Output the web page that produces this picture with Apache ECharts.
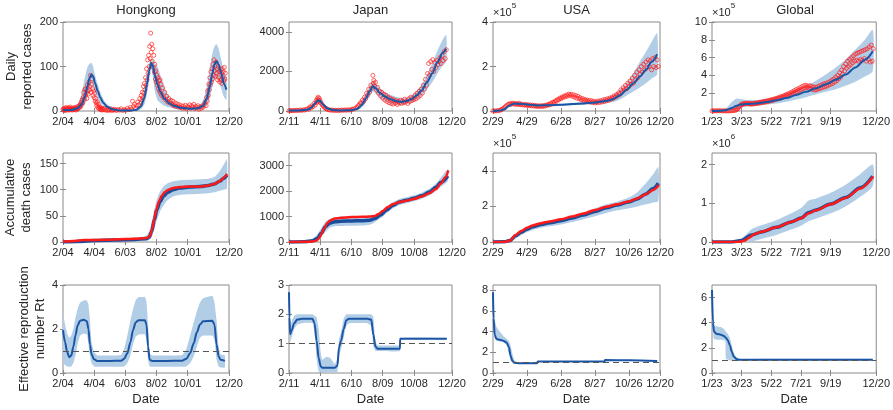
<!DOCTYPE html>
<html>
<head>
<meta charset="utf-8">
<script src="https://cdn.jsdelivr.net/npm/echarts@6/dist/echarts.min.js"></script>
<style>
  html, body { margin: 0; background: #fff; }
  #chart { width: 893px; height: 410px; }
</style>
</head>
<body>
<div id="chart"></div>
<script>
// x is "days since first date" of each region, ticks every 60 days + last date
const regionNames = ['Hongkong', 'Japan', 'USA', 'Global']
const xEnd = [320, 313, 295, 332]
const xTickLabels = [
  ['2/04', '4/04', '6/03', '8/02', '10/01', '12/20'],
  ['2/11', '4/11', '6/10', '8/09', '10/08', '12/20'],
  ['2/29', '4/29', '6/28', '8/27', '10/26', '12/20'],
  ['1/23', '3/23', '5/22', '7/21', '9/19', '12/20'],
]

// y axis per row
const dailyMax = [200, 4500, 4e5, 10e5]
const dailyTicks = [[0, 100, 200], [0, 2000, 4000], [0, 2e5, 4e5], [2e5, 4e5, 6e5, 8e5, 10e5]]
const deathMax = [170, 3500, 5e5, 2.3e6]
const deathTicks = [[0, 50, 100, 150], [0, 1000, 2000, 3000], [0, 2e5, 4e5], [0, 1e6, 2e6]]
const rtMax = [4, 3, 8.5, 7]
const rtTicks = [[0, 2, 4], [0, 1, 2, 3], [0, 2, 4, 6, 8], [0, 2, 4, 6]]

// model curves: [day, mean, lower, upper]
const hkDaily = [
  [0, 2, 0, 4], [15, 2, 0, 5], [28, 6, 2, 14], [36, 15, 6, 40], [42, 32, 15, 75], [47, 55, 30, 98],
  [51, 74, 50, 106], [55, 82, 62, 108], [58, 78, 55, 100], [62, 62, 40, 80], [67, 45, 28, 60],
  [72, 30, 18, 42], [78, 18, 10, 26], [85, 10, 5, 15], [95, 4, 1, 7], [110, 1, 0, 3], [130, 1, 0, 3],
  [142, 3, 1, 6], [150, 10, 4, 18], [157, 30, 15, 50], [162, 60, 40, 85], [166, 90, 70, 108],
  [170, 108, 95, 115], [173, 102, 80, 115], [177, 80, 45, 108], [182, 60, 25, 100], [188, 42, 18, 80],
  [195, 28, 12, 55], [205, 17, 8, 30], [215, 11, 5, 18], [228, 7, 3, 12], [245, 5, 2, 9], [260, 6, 3, 10],
  [270, 12, 5, 24], [277, 28, 12, 55], [283, 55, 30, 95], [288, 85, 55, 130], [292, 105, 70, 145],
  [296, 112, 75, 150], [300, 104, 70, 140], [305, 85, 50, 115], [310, 62, 32, 90], [315, 48, 25, 77],
]
const jpDaily = [
  [0, 20, 10, 40], [20, 30, 15, 60], [35, 60, 30, 110], [42, 150, 90, 220], [50, 380, 280, 500],
  [56, 540, 420, 660], [60, 500, 380, 620], [66, 300, 200, 420], [74, 130, 70, 200], [85, 50, 20, 90],
  [100, 30, 10, 60], [120, 40, 15, 80], [132, 120, 60, 220], [140, 300, 180, 480], [148, 650, 450, 900],
  [155, 1000, 750, 1300], [161, 1250, 1000, 1500], [166, 1150, 900, 1400], [175, 900, 650, 1150],
  [185, 720, 500, 950], [195, 590, 380, 820], [205, 500, 320, 720], [215, 470, 320, 650],
  [225, 500, 380, 650], [235, 600, 450, 780], [245, 780, 600, 1000], [255, 1050, 800, 1350],
  [265, 1450, 1100, 1850], [275, 1900, 1450, 2400], [285, 2450, 1900, 3050], [295, 2950, 2300, 3600],
  [302, 3150, 2500, 3850],
]
const usDaily = [
  [0, 500, 0, 1000], [12, 2000, 1000, 3000], [20, 8000, 5000, 11000], [28, 22000, 18000, 27000],
  [36, 33000, 29000, 37000], [45, 33000, 29000, 37000], [60, 29000, 25000, 33000], [80, 25000, 21000, 29000],
  [100, 26000, 22000, 31000], [120, 28000, 23000, 33000], [140, 31000, 26000, 37000], [160, 34000, 28000, 41000],
  [180, 38000, 31000, 46000], [200, 45000, 36000, 56000], [212, 53000, 40000, 70000], [224, 70000, 52000, 95000],
  [236, 95000, 70000, 125000], [248, 125000, 88000, 170000], [260, 156000, 107000, 224000],
  [270, 185000, 125000, 265000], [280, 220000, 145000, 310000], [290, 255000, 165000, 350000],
]
const glDaily = [
  [0, 500, 0, 1000], [20, 3000, 0, 8000], [30, 12000, 0, 40000], [40, 35000, 0, 100000],
  [50, 60000, 5000, 140000], [58, 72000, 30000, 135000], [70, 78000, 50000, 125000], [90, 85000, 60000, 125000],
  [110, 100000, 72000, 135000], [130, 120000, 85000, 160000], [150, 145000, 105000, 190000],
  [170, 180000, 130000, 230000], [190, 215000, 155000, 280000], [210, 255000, 185000, 340000],
  [230, 300000, 215000, 410000], [250, 350000, 245000, 490000], [270, 410000, 285000, 580000],
  [290, 490000, 330000, 690000], [310, 580000, 390000, 810000], [325, 670000, 450000, 910000],
]

const hkDeaths = [
  [0, 0, 0, 1], [30, 1, 0, 3], [60, 3, 1, 5], [100, 4, 2, 7], [140, 5, 3, 8], [160, 6, 3, 12],
  [166, 9, 4, 20], [171, 20, 10, 38], [176, 42, 25, 62], [181, 62, 42, 82], [187, 77, 58, 96],
  [194, 88, 70, 106], [202, 95, 80, 112], [212, 100, 87, 116], [225, 103, 90, 118], [245, 105, 91, 119],
  [265, 106, 92, 120], [280, 108, 93, 121], [292, 111, 95, 124], [302, 116, 98, 135], [310, 122, 100, 148],
  [316, 128, 102, 158],
]
const jpDeaths = [
  [0, 0, 0, 20], [30, 10, 0, 40], [45, 50, 10, 120], [55, 150, 60, 320], [62, 350, 180, 550],
  [70, 600, 400, 800], [78, 740, 560, 900], [88, 800, 620, 960], [100, 820, 630, 1000], [120, 830, 640, 1020],
  [140, 840, 650, 1020], [155, 860, 680, 1030], [165, 920, 780, 1060], [175, 1050, 920, 1180],
  [187, 1250, 1130, 1380], [200, 1450, 1330, 1570], [212, 1570, 1450, 1690], [225, 1640, 1520, 1760],
  [240, 1720, 1600, 1840], [255, 1820, 1700, 1950], [270, 1970, 1840, 2100], [282, 2150, 2000, 2300],
  [292, 2350, 2180, 2550], [305, 2600, 2400, 2850],
]
const usDeaths = [
  [0, 0, 0, 0], [20, 1000, 0, 3000], [30, 8000, 2000, 15000], [40, 35000, 20000, 45000],
  [50, 55000, 40000, 62000], [60, 72000, 55000, 80000], [70, 85000, 68000, 92000], [85, 98000, 80000, 105000],
  [100, 108000, 88000, 115000], [120, 120000, 98000, 128000], [140, 135000, 112000, 145000],
  [160, 152000, 128000, 165000], [180, 172000, 145000, 188000], [200, 192000, 163000, 212000],
  [220, 208000, 178000, 228000], [240, 225000, 190000, 250000], [255, 242000, 200000, 280000],
  [270, 270000, 212000, 330000], [283, 300000, 222000, 380000], [292, 330000, 230000, 420000],
]
const glDeaths = [
  [0, 0, 0, 0], [40, 3000, 0, 20000], [60, 40000, 0, 100000], [80, 180000, 20000, 330000],
  [100, 260000, 80000, 430000], [130, 380000, 180000, 560000], [160, 520000, 320000, 740000],
  [180, 620000, 420000, 880000], [196, 760000, 540000, 1080000], [210, 830000, 600000, 1120000],
  [240, 980000, 740000, 1270000], [270, 1150000, 920000, 1480000], [300, 1400000, 1170000, 1760000],
  [325, 1700000, 1450000, 2000000],
]

const hkRt = [
  [0, 1.95, 0.5, 2.7], [4, 1.4, 0.35, 2.2], [8, 0.95, 0.3, 1.8], [12, 0.72, 0.28, 1.6], [16, 0.8, 0.3, 1.7],
  [20, 1.2, 0.45, 2.0], [24, 1.7, 0.8, 2.5], [28, 2.15, 1.3, 2.9], [33, 2.38, 1.7, 3.2], [40, 2.42, 1.8, 3.3],
  [46, 2.35, 1.75, 3.3], [49, 2.0, 1.3, 3.1], [52, 1.3, 0.8, 2.4], [55, 0.85, 0.45, 1.4], [60, 0.62, 0.3, 0.95],
  [66, 0.55, 0.28, 0.8], [90, 0.55, 0.28, 0.8], [112, 0.56, 0.28, 0.82], [118, 0.65, 0.3, 1.1],
  [124, 0.9, 0.45, 1.7], [130, 1.4, 0.8, 2.4], [135, 1.95, 1.3, 2.9], [140, 2.3, 1.65, 3.3],
  [146, 2.4, 1.75, 3.45], [158, 2.4, 1.75, 3.45], [161, 2.2, 1.5, 3.2], [164, 1.2, 0.6, 2.2],
  [167, 0.6, 0.3, 0.9], [172, 0.55, 0.28, 0.8], [200, 0.55, 0.28, 0.8], [230, 0.56, 0.28, 0.82],
  [238, 0.65, 0.3, 1.1], [245, 0.9, 0.45, 1.7], [252, 1.35, 0.75, 2.3], [258, 1.85, 1.2, 2.8],
  [264, 2.2, 1.6, 3.2], [270, 2.35, 1.7, 3.4], [288, 2.38, 1.7, 3.5], [292, 2.2, 1.5, 3.2],
  [296, 1.3, 0.6, 2.4], [300, 0.75, 0.3, 1.2], [304, 0.6, 0.25, 0.85], [312, 0.55, 0.25, 0.8],
]
const jpRt = [
  [0, 2.75, 2.7, 2.8], [1, 1.9, 1.6, 2.1], [2, 1.32, 1.05, 1.6], [5, 1.45, 1.2, 1.75], [10, 1.7, 1.5, 1.95],
  [16, 1.82, 1.65, 2.0], [25, 1.85, 1.7, 2.0], [45, 1.85, 1.7, 2.0], [49, 1.7, 1.4, 1.95], [53, 1.1, 0.5, 1.9],
  [57, 0.5, 0.05, 1.5], [61, 0.22, 0.02, 0.7], [64, 0.18, 0.02, 0.45], [72, 0.18, 0.02, 0.55],
  [80, 0.18, 0.02, 0.5], [88, 0.18, 0.02, 0.3], [93, 0.25, 0.04, 0.5], [96, 0.88, 0.6, 1.15],
  [100, 1.1, 0.8, 1.4], [105, 1.5, 1.2, 1.85], [110, 1.8, 1.6, 2.0], [115, 1.85, 1.7, 2.0],
  [150, 1.85, 1.7, 2.0], [158, 1.82, 1.6, 2.0], [162, 1.3, 0.9, 1.9], [166, 0.9, 0.75, 1.1],
  [170, 0.83, 0.75, 0.95], [213, 0.83, 0.75, 0.95], [213.5, 1.17, 1.14, 1.2], [303, 1.17, 1.14, 1.2],
]
const usRt = [
  [0, 7.8, 7.6, 7.9], [1, 5.3, 4.8, 6.2], [3, 3.7, 3.4, 5.2], [6, 3.3, 3.1, 4.5], [12, 3.2, 3.05, 4.0],
  [18, 3.12, 3.0, 3.6], [24, 2.95, 2.7, 3.3], [28, 2.5, 1.9, 3.1], [31, 1.7, 1.2, 2.7], [34, 1.2, 1.0, 1.9],
  [38, 0.98, 0.92, 1.2], [45, 0.95, 0.9, 1.0], [78, 0.95, 0.9, 1.0], [79, 1.12, 1.08, 1.16],
  [197, 1.12, 1.08, 1.16], [198, 1.25, 1.2, 1.3], [240, 1.22, 1.17, 1.27], [290, 1.17, 1.12, 1.22],
]
const glRt = [
  [0, 6.6, 6.5, 6.7], [2, 4.0, 3.3, 4.8], [4, 3.3, 2.7, 3.75], [10, 3.1, 2.65, 3.7], [18, 3.05, 2.65, 3.65],
  [24, 2.95, 2.6, 3.5], [27, 2.85, 2.55, 3.35], [28, 2.8, 1.1, 3.3], [32, 2.6, 1.05, 3.1], [36, 2.2, 1.0, 2.8],
  [40, 1.7, 1.0, 2.2], [44, 1.3, 0.98, 1.6], [50, 1.1, 0.98, 1.25], [56, 1.05, 0.98, 1.12],
  [325, 1.05, 0.98, 1.12],
]

// reported data: [day, value]
const hkDailyObs = [
  [0, 4], [1, 2], [2, 6], [3, 3], [4, 1], [5, 5], [6, 8], [7, 2], [8, 4], [9, 6], [10, 3], [11, 7], [12, 2],
  [13, 5], [14, 9], [15, 4], [16, 3], [17, 6], [18, 2], [19, 5], [20, 7], [21, 3], [22, 4], [23, 8], [24, 5],
  [25, 2], [26, 6], [27, 4], [28, 10], [29, 5], [30, 7], [31, 12], [32, 9], [33, 14], [34, 10], [35, 20],
  [36, 16], [37, 25], [38, 18], [39, 30], [40, 42], [41, 26], [42, 48], [43, 35], [44, 50], [45, 40],
  [46, 28], [47, 58], [48, 45], [49, 38], [50, 65], [51, 48], [52, 55], [53, 80], [54, 42], [55, 60],
  [56, 72], [57, 50], [58, 35], [59, 45], [60, 30], [61, 40], [62, 22], [63, 28], [64, 18], [65, 12],
  [66, 20], [67, 8], [68, 15], [69, 6], [70, 10], [71, 4], [72, 8], [73, 3], [74, 6], [75, 2], [76, 5],
  [78, 3], [80, 6], [82, 2], [84, 4], [86, 1], [88, 3], [90, 2], [92, 5], [94, 1], [96, 3], [98, 2],
  [100, 4], [103, 1], [106, 3], [109, 2], [112, 5], [115, 1], [118, 3], [121, 2], [124, 6], [127, 3],
  [130, 8], [132, 4], [134, 22], [136, 10], [138, 15], [140, 6], [142, 12], [144, 20], [146, 14],
  [148, 28], [150, 18], [151, 35], [152, 25], [153, 42], [154, 30], [155, 55], [156, 40], [157, 62],
  [158, 48], [159, 75], [160, 58], [161, 95], [162, 70], [163, 115], [164, 85], [165, 125], [166, 100],
  [167, 145], [168, 118], [169, 175], [170, 132], [171, 150], [172, 112], [173, 140], [174, 98],
  [175, 125], [176, 88], [177, 105], [178, 72], [179, 90], [180, 65], [181, 80], [182, 58], [183, 75],
  [184, 50], [185, 68], [186, 45], [187, 70], [188, 40], [189, 60], [190, 35], [192, 52], [194, 30],
  [196, 42], [198, 25], [200, 33], [202, 20], [204, 28], [206, 18], [208, 24], [210, 15], [212, 22],
  [214, 12], [216, 18], [218, 10], [220, 16], [222, 9], [224, 14], [226, 8], [228, 12], [230, 6],
  [232, 11], [234, 7], [236, 13], [238, 5], [240, 10], [242, 8], [244, 14], [246, 6], [248, 12],
  [250, 9], [252, 15], [254, 5], [256, 10], [258, 7], [260, 12], [262, 4], [264, 9], [266, 6], [268, 11],
  [270, 8], [272, 14], [274, 20], [276, 12], [277, 30], [278, 22], [279, 45], [280, 35], [281, 60],
  [282, 48], [283, 75], [284, 58], [285, 88], [286, 65], [287, 95], [288, 72], [289, 105], [290, 80],
  [291, 115], [292, 90], [293, 100], [294, 78], [295, 110], [296, 85], [297, 95], [298, 70], [299, 100],
  [300, 75], [301, 88], [302, 65], [303, 92], [304, 70], [305, 85], [306, 62], [307, 95], [308, 75],
  [309, 88], [310, 68], [311, 98], [312, 72], [313, 85],
]
const jpDailyObs = [
  [0, 10], [3, 25], [6, 15], [9, 30], [12, 20], [15, 40], [18, 25], [21, 50], [24, 30], [27, 60], [30, 45],
  [33, 80], [36, 120], [38, 90], [40, 200], [42, 150], [44, 260], [46, 220], [48, 380], [50, 300],
  [52, 520], [53, 420], [54, 620], [55, 480], [56, 700], [57, 560], [58, 640], [59, 450], [60, 520],
  [62, 380], [64, 300], [66, 250], [68, 180], [70, 150], [72, 110], [74, 80], [77, 60], [80, 40],
  [83, 50], [86, 30], [89, 40], [92, 25], [95, 45], [98, 30], [101, 50], [104, 35], [107, 55], [110, 40],
  [113, 60], [116, 45], [119, 70], [122, 90], [125, 110], [128, 150], [131, 200], [133, 260], [135, 320],
  [137, 420], [139, 380], [141, 550], [143, 480], [145, 700], [147, 620], [149, 900], [151, 800],
  [153, 1100], [155, 950], [157, 1300], [159, 1150], [161, 1800], [162, 1400], [163, 1550], [164, 1250],
  [166, 1450], [168, 1050], [170, 1200], [172, 900], [174, 1000], [176, 750], [178, 950], [180, 650],
  [182, 850], [184, 550], [186, 800], [188, 480], [190, 700], [192, 420], [194, 650], [196, 380],
  [198, 600], [200, 350], [202, 560], [204, 400], [206, 520], [208, 330], [210, 480], [212, 400],
  [214, 550], [216, 380], [218, 500], [220, 420], [222, 600], [224, 450], [226, 520], [228, 380],
  [230, 620], [232, 480], [234, 700], [236, 520], [238, 650], [240, 580], [242, 800], [244, 620],
  [246, 900], [248, 700], [250, 1000], [252, 780], [254, 1100], [256, 900], [258, 1300], [260, 1100],
  [262, 1600], [264, 1300], [266, 1900], [268, 2400], [270, 1800], [272, 2500], [274, 2100], [276, 2600],
  [278, 2000], [280, 2450], [282, 2200], [284, 2550], [286, 2350], [288, 2500], [290, 2700], [292, 2400],
  [294, 2800], [296, 2550], [298, 3000], [300, 2650], [302, 3100],
]
const usDailyObs = [
  [0, 100], [3, 300], [6, 800], [9, 1500], [12, 3000], [14, 5000], [16, 8000], [18, 11000], [20, 15000],
  [22, 20000], [24, 24000], [26, 28000], [28, 31000], [30, 33000], [32, 30000], [34, 35000], [36, 32000],
  [38, 34000], [40, 29000], [42, 33000], [44, 30000], [46, 35000], [48, 28000], [50, 31000], [52, 27000],
  [54, 30000], [56, 26000], [58, 29000], [60, 25000], [62, 28000], [64, 24000], [66, 27000], [68, 23000],
  [70, 26000], [72, 22000], [74, 25000], [76, 21000], [78, 24000], [80, 20000], [82, 23000], [84, 21000],
  [86, 24000], [88, 20000], [90, 25000], [92, 22000], [94, 27000], [96, 25000], [98, 30000], [100, 28000],
  [102, 35000], [104, 32000], [106, 40000], [108, 38000], [110, 46000], [112, 44000], [114, 52000],
  [116, 50000], [118, 58000], [120, 55000], [122, 63000], [124, 60000], [126, 68000], [128, 64000],
  [130, 72000], [132, 67000], [134, 76000], [136, 70000], [138, 75000], [140, 66000], [142, 73000],
  [144, 62000], [146, 70000], [148, 58000], [150, 66000], [152, 55000], [154, 60000], [156, 50000],
  [158, 56000], [160, 47000], [162, 52000], [164, 44000], [166, 50000], [168, 42000], [170, 48000],
  [172, 40000], [174, 46000], [176, 38000], [178, 44000], [180, 36000], [182, 42000], [184, 37000],
  [186, 45000], [188, 38000], [190, 46000], [192, 40000], [194, 50000], [196, 42000], [198, 52000],
  [200, 45000], [202, 55000], [204, 48000], [206, 58000], [208, 52000], [210, 62000], [212, 57000],
  [214, 68000], [216, 62000], [218, 74000], [220, 68000], [222, 82000], [224, 75000], [226, 95000],
  [228, 85000], [230, 105000], [232, 95000], [234, 115000], [236, 100000], [238, 125000], [240, 110000],
  [242, 135000], [244, 120000], [246, 148000], [248, 125000], [250, 160000], [252, 140000], [254, 175000],
  [256, 150000], [258, 185000], [260, 165000], [262, 200000], [264, 175000], [266, 210000], [268, 185000],
  [270, 220000], [272, 195000], [274, 230000], [276, 200000], [278, 225000], [280, 185000], [282, 235000],
  [284, 200000], [286, 240000], [288, 195000], [290, 230000], [292, 200000],
]
const glDailyObs = [
  [0, 600], [3, 800], [6, 1500], [9, 2000], [12, 2500], [15, 3000], [18, 2000], [21, 1500], [24, 1000],
  [27, 800], [30, 1200], [33, 1000], [36, 1500], [39, 2500], [42, 4000], [45, 6000], [48, 9000],
  [50, 15000], [52, 25000], [54, 40000], [56, 55000], [58, 65000], [60, 75000], [62, 80000], [64, 78000],
  [66, 85000], [68, 82000], [70, 88000], [72, 80000], [74, 86000], [76, 78000], [78, 84000], [80, 76000],
  [82, 83000], [84, 80000], [86, 88000], [88, 82000], [90, 90000], [92, 85000], [94, 95000], [96, 88000],
  [98, 98000], [100, 92000], [102, 104000], [104, 96000], [106, 108000], [108, 100000], [110, 112000],
  [112, 105000], [114, 118000], [116, 110000], [118, 125000], [120, 115000], [122, 130000], [124, 120000],
  [126, 136000], [128, 128000], [130, 142000], [132, 135000], [134, 150000], [136, 140000], [138, 158000],
  [140, 148000], [142, 165000], [144, 155000], [146, 175000], [148, 165000], [150, 185000], [152, 175000],
  [154, 195000], [156, 182000], [158, 205000], [160, 190000], [162, 215000], [164, 200000], [166, 228000],
  [168, 210000], [170, 240000], [172, 220000], [174, 250000], [176, 232000], [178, 262000], [180, 240000],
  [182, 275000], [184, 250000], [186, 285000], [188, 260000], [190, 290000], [192, 265000], [194, 280000],
  [196, 255000], [198, 285000], [200, 250000], [202, 275000], [204, 240000], [206, 270000], [208, 235000],
  [210, 265000], [212, 240000], [214, 275000], [216, 250000], [218, 285000], [220, 255000], [222, 295000],
  [224, 265000], [226, 305000], [228, 270000], [230, 310000], [232, 280000], [234, 320000], [236, 290000],
  [238, 330000], [240, 300000], [242, 345000], [244, 310000], [246, 360000], [248, 325000], [250, 380000],
  [252, 340000], [254, 400000], [256, 360000], [258, 430000], [260, 380000], [262, 460000], [264, 410000],
  [266, 500000], [268, 450000], [270, 530000], [272, 480000], [274, 560000], [276, 500000], [278, 580000],
  [280, 520000], [282, 600000], [284, 540000], [286, 620000], [288, 560000], [290, 640000], [292, 570000],
  [294, 650000], [296, 560000], [298, 660000], [300, 580000], [302, 670000], [304, 570000], [306, 680000],
  [308, 590000], [310, 690000], [312, 560000], [314, 700000], [316, 580000], [318, 720000], [320, 550000],
  [322, 740000], [324, 560000], [326, 700000],
]

const hkDeathsObs = [
  [0, 1], [20, 2], [40, 4], [60, 4], [100, 5], [140, 6], [155, 7], [163, 8], [168, 12], [172, 25],
  [176, 45], [180, 62], [185, 78], [190, 88], [196, 95], [203, 100], [212, 103], [225, 105], [245, 106],
  [265, 106], [280, 108], [292, 111], [300, 115], [306, 119], [311, 124], [316, 130],
]
const jpDeathsObs = [
  [0, 0], [30, 5], [45, 20], [52, 50], [58, 150], [63, 350], [68, 560], [74, 760], [80, 860], [88, 920],
  [100, 950], [120, 980], [140, 990], [155, 1000], [165, 1020], [172, 1100], [180, 1220], [190, 1380],
  [200, 1490], [212, 1570], [225, 1620], [240, 1690], [255, 1790], [270, 1920], [282, 2080], [292, 2300],
  [300, 2550], [306, 2820],
]
const usDeathsObs = [
  [0, 0], [20, 500], [30, 8000], [40, 40000], [50, 62000], [60, 80000], [70, 93000], [85, 106000],
  [100, 115000], [120, 128000], [140, 143000], [160, 160000], [180, 180000], [200, 198000], [220, 212000],
  [240, 228000], [255, 245000], [270, 268000], [283, 292000], [293, 320000],
]
const glDeathsObs = [
  [0, 0], [40, 1000], [55, 5000], [65, 30000], [75, 110000], [85, 200000], [100, 265000], [130, 380000],
  [160, 520000], [180, 615000], [196, 740000], [210, 820000], [240, 975000], [270, 1140000],
  [300, 1385000], [326, 1690000],
]

// layout
const gridLeft = [63, 289, 493, 712]
const gridWidth = [166, 163, 167, 166]
const gridTop = [22, 153, 285]
const gridHeight = [89, 89, 88]

const blue = '#1b56a6'
const band = '#b2cee6'
const red = '#ff1a1a'
const boxColor = '#8a8a8a'
const textColor = '#262626'
const font = 'Liberation Sans'

const rows = [
  {
    curves: [hkDaily, jpDaily, usDaily, glDaily],
    obs: [hkDailyObs, jpDailyObs, usDailyObs, glDailyObs],
    kind: 'scatter', max: dailyMax, ticks: dailyTicks,
    scale: [1, 1, 1e5, 1e5], unit: [null, null, '5', '5'],
    name: 'Daily\nreported cases', nameGap: 27,
  },
  {
    curves: [hkDeaths, jpDeaths, usDeaths, glDeaths],
    obs: [hkDeathsObs, jpDeathsObs, usDeathsObs, glDeathsObs],
    kind: 'line', max: deathMax, ticks: deathTicks,
    scale: [1, 1, 1e5, 1e6], unit: [null, null, '5', '6'],
    name: 'Accumulative\ndeath cases', nameGap: 29,
  },
  {
    curves: [hkRt, jpRt, usRt, glRt],
    obs: [null, null, null, null],
    kind: 'rt', max: rtMax, ticks: rtTicks,
    scale: [1, 1, 1, 1], unit: [null, null, null, null],
    name: 'Effective reproduction\nnumber Rt', nameGap: 14,
  },
]

// shaded interval as one polygon, mapped through the panel's axes
function bandSeries(curve, xi, smooth) {
  return {
    type: 'custom', xAxisIndex: xi, yAxisIndex: xi, silent: true, z: 1,
    data: [[curve[0][0], curve[0][2]]],
    renderItem: (params, api) => {
      const top = curve.map(p => api.coord([p[0], p[3]]))
      const bottom = curve.slice().reverse().map(p => api.coord([p[0], p[2]]))
      return {
        type: 'polygon',
        shape: { points: top.concat(bottom), smooth: smooth },
        style: { fill: band, stroke: null },
      }
    },
  }
}

const grids = []
const xAxes = []
const yAxes = []
const series = []

rows.forEach((row, r) => {
  for (let c = 0; c < 4; c++) {
    const idx = r * 4 + c
    grids.push({
      left: gridLeft[c], width: gridWidth[c], top: gridTop[r], height: gridHeight[r],
      show: true, borderColor: boxColor, borderWidth: 1, backgroundColor: 'transparent',
    })
    const xt = [0, 60, 120, 180, 240, xEnd[c]]
    const tick = { show: true, inside: true, length: 3, customValues: xt, lineStyle: { color: boxColor } }
    xAxes.push({
      type: 'value', gridIndex: idx, min: 0, max: xEnd[c], position: 'bottom',
      axisLine: { show: false }, splitLine: { show: false }, axisTick: tick,
      axisLabel: {
        customValues: xt, color: textColor, fontSize: 11, fontFamily: font, margin: 5,
        formatter: v => xTickLabels[c][xt.indexOf(v)],
      },
      name: r === 2 ? 'Date' : '', nameLocation: 'middle', nameGap: 20,
      nameTextStyle: { color: textColor, fontSize: 13, fontFamily: font },
    })
    xAxes.push({
      type: 'value', gridIndex: idx, min: 0, max: xEnd[c], position: 'top',
      axisLine: { show: false }, splitLine: { show: false }, axisTick: tick,
      axisLabel: { show: false },
    })
    const yt = row.ticks[c]
    const ytick = { show: true, inside: true, length: 3, customValues: yt, lineStyle: { color: boxColor } }
    const unit = row.unit[c]
    yAxes.push({
      type: 'value', gridIndex: idx, min: 0, max: row.max[c], position: 'left',
      axisLine: { show: false }, splitLine: { show: false }, axisTick: ytick,
      axisLabel: {
        customValues: yt, color: textColor, fontSize: 11, fontFamily: font, margin: 5,
        formatter: v => String(+(v / row.scale[c]).toFixed(2)),
      },
      name: unit ? '{a|×10}{b|' + unit + '}' : (c === 0 ? row.name : ''),
      nameLocation: unit ? 'end' : 'middle',
      nameGap: unit ? 4 : row.nameGap,
      nameRotate: unit ? 0 : 90,
      nameTextStyle: unit
        ? {
            align: 'left', padding: [0, 0, 0, 0],
            rich: {
              a: { fontSize: 11, color: textColor, fontFamily: font, verticalAlign: 'bottom', lineHeight: 16 },
              b: { fontSize: 8, color: textColor, fontFamily: font, verticalAlign: 'top', lineHeight: 8 },
            },
          }
        : { color: textColor, fontSize: 13, fontFamily: font, lineHeight: 16 },
    })
    yAxes.push({
      type: 'value', gridIndex: idx, min: 0, max: row.max[c], position: 'right',
      axisLine: { show: false }, splitLine: { show: false }, axisTick: ytick,
      axisLabel: { show: false },
    })

    const xi = idx * 2
    const curve = row.curves[c]
    const common = {
      xAxisIndex: xi, yAxisIndex: xi, symbol: 'none', silent: true,
      smooth: 0.3, smoothMonotone: 'x', z: 4,
    }
    series.push(bandSeries(curve, xi, r === 2 ? 0.12 : 0.25))
    const obs = row.obs[c]
    if (row.kind === 'scatter') {
      series.push({
        type: 'scatter', xAxisIndex: xi, yAxisIndex: xi, silent: true, z: 3,
        data: obs, symbol: 'circle', symbolSize: 4,
        itemStyle: { color: 'rgba(0,0,0,0)', borderColor: red, borderWidth: 0.8, opacity: 0.85 },
      })
      series.push({
        ...common, type: 'line', data: curve.map(p => [p[0], p[1]]),
        lineStyle: { color: blue, width: 2 },
      })
    } else if (row.kind === 'line') {
      series.push({
        ...common, type: 'line', data: curve.map(p => [p[0], p[1]]),
        lineStyle: { color: '#1a4d9a', width: 3.5 },
      })
      series.push({
        ...common, type: 'line', data: obs, z: 5,
        lineStyle: { color: red, width: 2.5 },
      })
    } else {
      series.push({
        ...common, type: 'line', data: curve.map(p => [p[0], p[1]]),
        lineStyle: { color: blue, width: 2 },
        markLine: {
          silent: true, symbol: ['none', 'none'], label: { show: false },
          lineStyle: { color: '#555', type: [6, 4], width: 1 },
          data: [{ yAxis: 1 }],
        },
      })
    }
  }
})

const titles = regionNames.map((t, c) => ({
  type: 'text',
  x: gridLeft[c] + gridWidth[c] / 2,
  y: 4,
  style: {
    text: t, fill: textColor, font: '13px Liberation Sans',
    align: 'center', verticalAlign: 'top', textAlign: 'center', textVerticalAlign: 'top',
  },
}))

const chart = echarts.init(document.getElementById('chart'), null, { renderer: 'canvas' })
chart.setOption({
  animation: false,
  backgroundColor: '#fff',
  textStyle: { fontFamily: font },
  grid: grids,
  xAxis: xAxes,
  yAxis: yAxes,
  series: series,
  graphic: { elements: titles },
})
</script>
</body>
</html>
